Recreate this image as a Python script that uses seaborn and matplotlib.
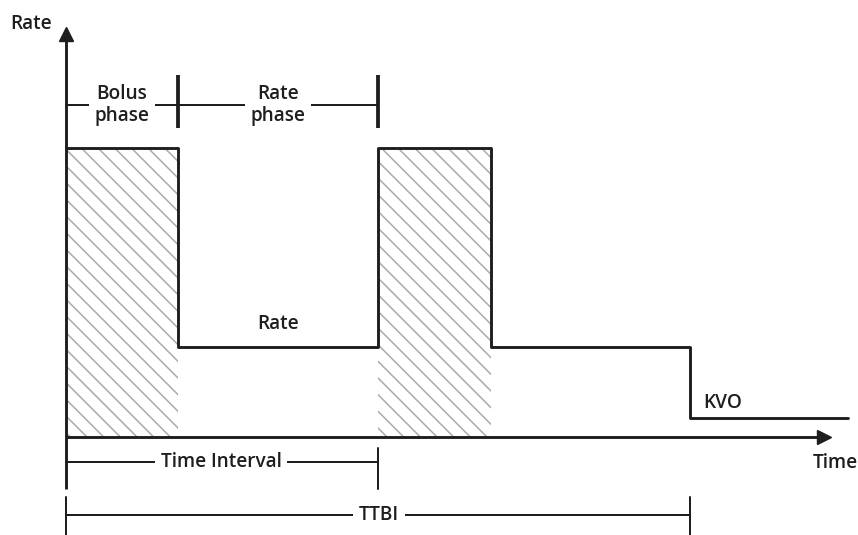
import matplotlib
matplotlib.use("Agg")
import matplotlib.pyplot as plt
import seaborn as sns
import pandas as pd

# ---- data (time / rate units, origin at axis crossing) ----
step_time = [0, 112, 312, 425, 624, 782]
step_rate = [289, 90, 289, 90, 19, 19]
bolus_starts = [0, 312]
bolus_widths = [112, 113]
bolus_height = 289
phase_ticks = [112, 312]
interval_end = 312
ttbi_end = 624

DPI = 100
S = 72 / DPI  # pixels -> points

sns.set_style("white")
plt.rcParams["font.family"] = ["Open Sans", "DejaVu Sans"]
plt.rcParams["hatch.linewidth"] = 1.5 * S

fig = plt.figure(figsize=(8.58, 5.35), dpi=DPI)
ax = fig.add_axes([0, 0, 1, 1])
ax.set_xlim(-66, 792)
ax.set_ylim(-98, 437)
ax.axis("off")

ink = "#1e1e1e"
tkw = dict(fontsize=19 * S, fontweight="semibold", color=ink)
thick = 2.9 * S
thin = 2.0 * S

# hatched bolus areas
ax.bar(bolus_starts, [bolus_height] * 2, width=bolus_widths, align="edge",
       bottom=0, color="white", edgecolor="#a9a9a9", linewidth=0,
       hatch="\\\\", zorder=1)

# step curve
df = pd.DataFrame({"time": step_time, "rate": step_rate})
sns.lineplot(data=df, x="time", y="rate", drawstyle="steps-post", sort=False,
             estimator=None, color=ink, lw=thick, ax=ax, zorder=3)

# axes with arrows
ax.plot([0, 0], [-52, 400], color=ink, lw=thick, zorder=4, solid_capstyle="butt")
ax.plot([0, 754], [0, 0], color=ink, lw=thick, zorder=4, solid_capstyle="butt")
ax.plot([0], [403], marker="^", ms=14 * S, color=ink, zorder=5)
ax.plot([758], [0], marker=">", ms=13.5 * S, color=ink, zorder=5)
ax.text(-56, 408, "Rate", ha="left", va="baseline", **tkw)
ax.text(747, -31, "Time", ha="left", va="baseline", **tkw)

# phase bracket
ax.plot([0, interval_end], [332, 332], color=ink, lw=thin, zorder=2)
for xt in phase_ticks:
    ax.plot([xt, xt], [309, 362], color=ink, lw=3.8 * S, zorder=2, solid_capstyle="butt")
bb = dict(boxstyle="square,pad=0.3", fc="white", ec="none")
ax.text(56, 332, "Bolus\nphase", ha="center", va="center", linespacing=1.1,
        bbox=bb, zorder=6, **tkw)
ax.text(212, 332, "Rate\nphase", ha="center", va="center", linespacing=1.1,
        bbox=bb, zorder=6, **tkw)

# labels on curve
ax.text(212, 108, "Rate", ha="center", va="baseline", **tkw)
ax.text(637, 29, "KVO", ha="left", va="baseline", **tkw)

# Time interval bracket
ax.plot([0, interval_end], [-25, -25], color=ink, lw=thin, zorder=2)
ax.plot([interval_end, interval_end], [-11, -52], color=ink, lw=thin, zorder=2)
ax.text(155, -25, "Time Interval", ha="center", va="center", bbox=bb, zorder=6, **tkw)

# TTBI bracket
ax.plot([0, ttbi_end], [-78, -78], color=ink, lw=thin, zorder=2)
for xt in [0, ttbi_end]:
    ax.plot([xt, xt], [-60, -98], color=ink, lw=thin, zorder=2)
ax.text(313, -78, "TTBI", ha="center", va="center", bbox=bb, zorder=6, **tkw)

fig.savefig("out.png", dpi=DPI)
